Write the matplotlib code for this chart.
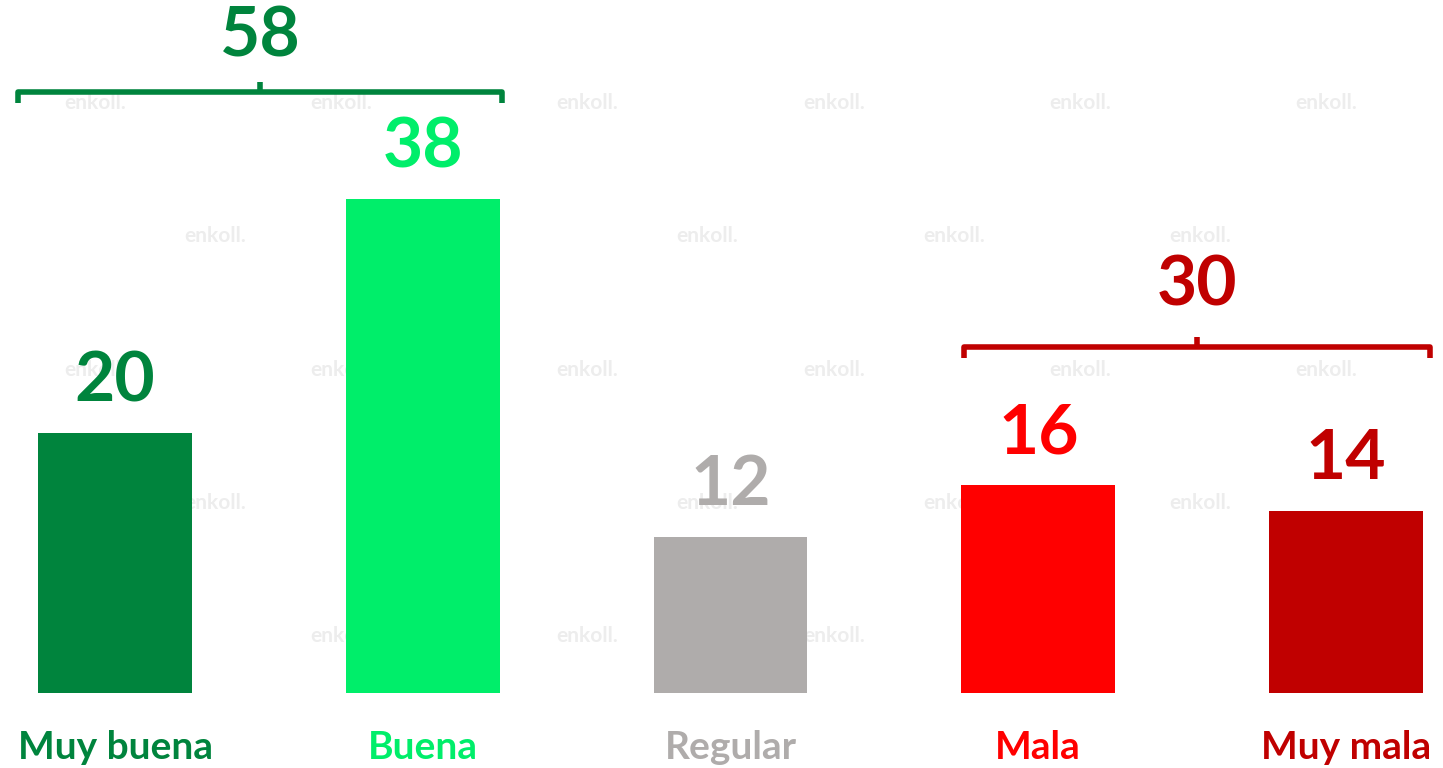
import matplotlib
matplotlib.use("Agg")
import matplotlib.pyplot as plt

# Datos
categorias = ["Muy buena", "Buena", "Regular", "Mala", "Muy mala"]
valores = [20, 38, 12, 16, 14]
colores = ["#00843D", "#00EE6A", "#AFACAB", "#FF0000", "#C00000"]

# Agrupados (positivo / negativo)
grupos = [(0, 1), (3, 4)]
totales = [58, 30]
colores_grupo = ["#00843D", "#C00000"]
alto_llave = [46.2, 26.6]

plt.rcParams['font.family'] = ['Lato', 'DejaVu Sans']

fig = plt.figure(figsize=(14.43, 7.68), dpi=100)
fondo = fig.add_axes([0, 0, 1, 1])
fondo.set_xlim(0, 1443)
fondo.set_ylim(768, 0)
fondo.axis("off")

# marca de agua (solo las que caben enteras)
for fila in range(5):
    y = 103 + fila * 133.3
    x0 = 95 if fila % 2 == 0 else 215
    for col in range(0, 6):
        x = x0 + col * 246.3
        if x + 40 > 1443:
            continue
        fondo.text(x, y, "enkoll.", color="#ededed", fontsize=15, fontweight="bold",
                   ha="center", va="center", zorder=0)

ax = fig.add_axes([0, 75 / 768, 1, 693 / 768])
ax.patch.set_alpha(0)
ax.set_xlim(-115 / 307.75, 4 + 97 / 307.75)
ax.set_ylim(0, 693 / 13)
ax.axis("off")

x = list(range(len(categorias)))
ax.bar(x, valores, width=0.5, color=colores, zorder=2)

for xi, cat, v, c in zip(x, categorias, valores, colores):
    ax.annotate(str(v), (xi, v), xytext=(0, 23), textcoords="offset points",
                ha="center", va="baseline", fontsize=50, fontweight="bold", color=c)
    ax.text(xi, -4.2, cat, ha="center", va="center",
            fontsize=28, fontweight="bold", color=c, clip_on=False)

# llaves
desfase = [26, 30]
for (a, b), tot, c, yb, d in zip(grupos, totales, colores_grupo, alto_llave, desfase):
    izq = a - 0.25 - (0.065 if a == 0 else -0.01)
    der = b + 0.25 + (0.008 if a == 0 else 0.023)
    med = (izq + der) / 2
    ax.plot([izq, izq, der, der], [yb - 0.8, yb, yb, yb - 0.8], color=c, lw=4,
            solid_joinstyle="round", solid_capstyle="butt", clip_on=False)
    ax.plot([med, med], [yb, yb + 0.8], color=c, lw=4, solid_capstyle="butt")
    ax.annotate(str(tot), (med, yb), xytext=(0, d), textcoords="offset points",
                ha="center", va="baseline", fontsize=50, fontweight="bold", color=c)

fig.savefig("out.png", dpi=100)
